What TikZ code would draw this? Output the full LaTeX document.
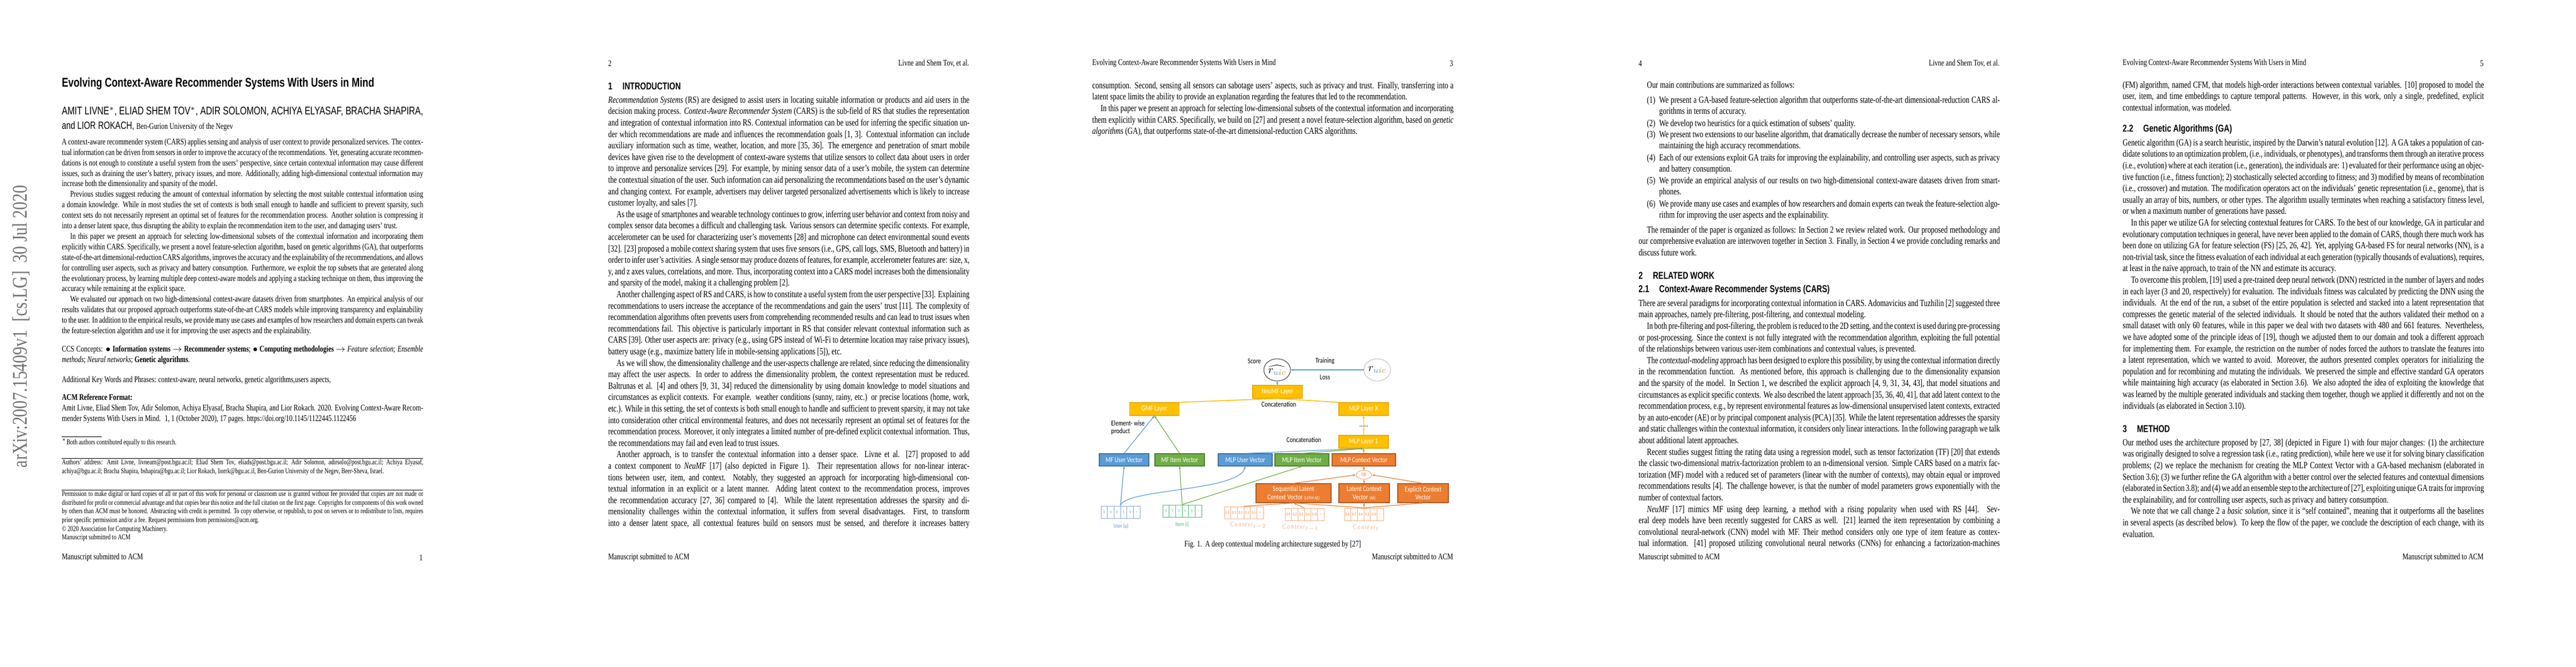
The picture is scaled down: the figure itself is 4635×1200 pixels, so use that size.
\documentclass[tikz,border=0pt]{standalone}
\usepackage{fontspec}
\setmainfont{Liberation Serif}[FakeStretch=0.76]
\newfontfamily\hsans{Liberation Sans}[FakeStretch=0.76]
\newfontfamily\figfont{Carlito}[FakeStretch=0.8]
\newfontfamily\stampfont{Liberation Serif}
\usetikzlibrary{arrows.meta,shapes.geometric}
\definecolor{yl}{HTML}{FFC000}\definecolor{ylb}{HTML}{E6AC00}
\definecolor{bl}{HTML}{5B9BD5}\definecolor{blb}{HTML}{41719C}
\definecolor{gr}{HTML}{70AD47}\definecolor{grb}{HTML}{507E32}
\definecolor{org}{HTML}{ED7D31}\definecolor{orb}{HTML}{AE5A21}
\definecolor{blin}{HTML}{8EA9DB}\definecolor{grin}{HTML}{4CC07A}\definecolor{orin}{HTML}{F4B183}
\newcommand\bp[5]{\node[#1] (#2) at (#3,{#4-11}) {#5};}
\newcommand\ind{\hspace*{7.5pt}}
\newcommand\cvec[6]{%
  \node[draw=#4,line width=0.5pt,minimum width=35pt,minimum height=11pt,inner sep=0] (#1) at (#2,#3) {};
  \foreach \k in {1,...,5}{\draw[#4,line width=0.4pt] ({#2-35+\k*11.67},{#3-11}) -- ({#2-35+\k*11.67},{#3+11});}
  \foreach \v [count=\i] in {#5}{\node[inner sep=0,text=#6,font=\figfont\fontsize{#6}{4}\selectfont] (#1c\i) at ({#2-35+(\i-0.5)*11.67},#3) {\v};}
}
\newcommand\cvecb[6]{%
  \node[draw=#4,line width=0.5pt,minimum width=35pt,minimum height=11pt,inner sep=0] (#1) at (#2,#3) {};
  \foreach \k in {1,...,5}{\draw[#4,line width=0.4pt] ({#2-35+\k*11.67},{#3-11}) -- ({#2-35+\k*11.67},{#3+11});}
  \foreach \v [count=\i] in {#5}{\node[inner sep=0,text=#6,font=\figfont\fontsize{3.6}{4}\selectfont] (#1c\i) at ({#2-35+(\i-0.5)*11.67},#3) {\v};}
}
\begin{document}
\begin{tikzpicture}[x=0.5pt,y=-0.5pt,
  bodytext/.style={anchor=north west,inner sep=0pt,align=justify,text width=325pt,font=\fontsize{8.5}{10.3}\selectfont},
  abs/.style={bodytext,font=\fontsize{7.8}{9.45}\selectfont},
  small/.style={bodytext,font=\fontsize{6.6}{7.8}\selectfont},
  hdr/.style={inner sep=0pt,font=\fontsize{7.8}{9}\selectfont},
  sec/.style={anchor=west,inner sep=0pt,font=\hsans\bfseries\fontsize{9}{10}\selectfont},
  rule/.style={line width=0.4pt},
  fbox/.style={draw,line width=0.6pt,inner sep=0pt,font=\figfont\fontsize{6.6}{7.4}\selectfont,text=white,align=center},
  ybox/.style={fbox,fill=yl,draw=ylb,minimum width=44.5pt,minimum height=11.5pt},
  bbox/.style={fbox,fill=bl,draw=blb,minimum height=11pt},
  gbox/.style={fbox,fill=gr,draw=grb,minimum height=11pt},
  obox/.style={fbox,fill=org,draw=orb,minimum height=11pt},
  lab/.style={inner sep=0pt,font=\figfont\fontsize{6.6}{7.4}\selectfont},
  ya/.style={yl,line width=0.6pt,-{Stealth[length=2.5pt,width=2pt]}},
  ba/.style={bl,line width=0.6pt,-{Stealth[length=2.5pt,width=2pt]}},
  ga/.style={gr,line width=0.6pt,-{Stealth[length=2.5pt,width=2pt]}},
  oa/.style={org,line width=0.6pt,-{Stealth[length=2.5pt,width=2pt]}}]
\useasboundingbox (0,0) rectangle (4635,1200);
\fill[white] (0,0) rectangle (4635,1200);

% ================= PAGE 1 =================
\node[rotate=90,inner sep=0,text=black!55] (stamp) at (38,588) {\resizebox{254pt}{13pt}{\stampfont arXiv:2007.15409v1\ \ [cs.LG]\ \ 30 Jul 2020}};
\node[anchor=west,inner sep=0] (title) at (111,151) {\resizebox{281pt}{!}{\hsans\bfseries Evolving Context-Aware Recommender Systems With Users in Mind}};
\node[anchor=west,inner sep=0] (auth1) at (111,201) {\resizebox{325pt}{!}{\hsans AMIT LIVNE$^{*}$, ELIAD SHEM TOV$^{*}$, ADIR SOLOMON, ACHIYA ELYASAF, BRACHA SHAPIRA,}};
\node[anchor=west,inner sep=0] (auth2) at (111,227) {{\hsans\fontsize{9.4}{10}\selectfont and LIOR ROKACH,} {\fontsize{7.8}{9}\selectfont Ben-Gurion University of the Negev}};
\bp{abs}{a1}{111}{260}{A context-aware recommender system (CARS) applies sensing and analysis of user context to provide personalized services. The contextual information can be driven from sensors in order to improve the accuracy of the recommendations. Yet, generating accurate recommendations is not enough to constitute a useful system from the users' perspective, since certain contextual information may cause different issues, such as draining the user's battery, privacy issues, and more. Additionally, adding high-dimensional contextual information may increase both the dimensionality and sparsity of the model.

\ind Previous studies suggest reducing the amount of contextual information by selecting the most suitable contextual information using a domain knowledge. While in most studies the set of contexts is both small enough to handle and sufficient to prevent sparsity, such context sets do not necessarily represent an optimal set of features for the recommendation process. Another solution is compressing it into a denser latent space, thus disrupting the ability to explain the recommendation item to the user, and damaging users' trust.

\ind In this paper we present an approach for selecting low-dimensional subsets of the contextual information and incorporating them explicitly within CARS. Specifically, we present a novel feature-selection algorithm, based on genetic algorithms (GA), that outperforms state-of-the-art dimensional-reduction CARS algorithms, improves the accuracy and the explainability of the recommendations, and allows for controlling user aspects, such as privacy and battery consumption. Furthermore, we exploit the top subsets that are generated along the evolutionary process, by learning multiple deep context-aware models and applying a stacking technique on them, thus improving the accuracy while remaining at the explicit space.

\ind We evaluated our approach on two high-dimensional context-aware datasets driven from smartphones. An empirical analysis of our results validates that our proposed approach outperforms state-of-the-art CARS models while improving transparency and explainability to the user. In addition to the empirical results, we provide many use cases and examples of how researchers and domain experts can tweak the feature-selection algorithm and use it for improving the user aspects and the explainability.}
\bp{abs}{ccs}{111}{633}{CCS Concepts: $\bullet$ \textbf{Information systems} $\rightarrow$ \textbf{Recommender systems}; $\bullet$ \textbf{Computing methodologies} $\rightarrow$ \emph{Feature selection}; \emph{Ensemble methods}; \emph{Neural networks}; \textbf{Genetic algorithms}.}
\bp{abs}{kw}{111}{688}{Additional Key Words and Phrases: context-aware, neural networks, genetic algorithms,users aspects,}
\bp{abs}{acm}{111}{720}{\textbf{ACM Reference Format:}\\ Amit Livne, Eliad Shem Tov, Adir Solomon, Achiya Elyasaf, Bracha Shapira, and Lior Rokach. 2020. Evolving Context-Aware Recommender Systems With Users in Mind. \ 1, 1 (October 2020), 17 pages. https://doi.org/10.1145/1122445.1122456}
\coordinate (fnA) at (111,786); \coordinate (fnB) at (183,786);
\draw[rule] (fnA) -- (fnB);
\bp{small}{fn}{111}{800}{$^{*}$Both authors contributed equally to this research.}
\coordinate (r1A) at (111,825); \coordinate (r1B) at (761,825);
\draw[rule] (r1A) -- (r1B);
\bp{small}{addr}{111}{838}{Authors' address: Amit Livne, livneam@post.bgu.ac.il; Eliad Shem Tov, eliads@post.bgu.ac.il; Adir Solomon, adirsolo@post.bgu.ac.il; Achiya Elyasaf, achiya@bgu.ac.il; Bracha Shapira, bshapira@bgu.ac.il; Lior Rokach, liorrk@bgu.ac.il, Ben-Gurion University of the Negev, Beer-Sheva, Israel.}
\coordinate (r2A) at (111,882); \coordinate (r2B) at (761,882);
\draw[rule] (r2A) -- (r2B);
\bp{small}{perm}{111}{895}{Permission to make digital or hard copies of all or part of this work for personal or classroom use is granted without fee provided that copies are not made or distributed for profit or commercial advantage and that copies bear this notice and the full citation on the first page. Copyrights for components of this work owned by others than ACM must be honored. Abstracting with credit is permitted. To copy otherwise, or republish, to post on servers or to redistribute to lists, requires prior specific permission and/or a fee. Request permissions from permissions@acm.org.\\
\copyright\ 2020 Association for Computing Machinery.\\
Manuscript submitted to ACM}
\node[hdr,anchor=west] (f1l) at (111,1004) {Manuscript submitted to ACM};
\node[hdr,anchor=east] (f1r) at (761,1004) {1};

% ================= PAGE 2 =================
\node[hdr,anchor=west] (h2l) at (1094,114) {2};
\node[hdr,anchor=east] (h2r) at (1744,114) {Livne and Shem Tov, et al.};
\node[sec] (s1) at (1094,155) {1\hspace{9pt}INTRODUCTION};
\bp{bodytext}{p2}{1094}{184}{\emph{Recommendation Systems} (RS) are designed to assist users in locating suitable information or products and aid users in the decision making process. \emph{Context-Aware Recommender System} (CARS) is the sub-field of RS that studies the representation and integration of contextual information into RS. Contextual information can be used for inferring the specific situation under which recommendations are made and influences the recommendation goals [1, 3]. Contextual information can include auxiliary information such as time, weather, location, and more [35, 36]. The emergence and penetration of smart mobile devices have given rise to the development of context-aware systems that utilize sensors to collect data about users in order to improve and personalize services [29]. For example, by mining sensor data of a user's mobile, the system can determine the contextual situation of the user. Such information can aid personalizing the recommendations based on the user's dynamic and changing context. For example, advertisers may deliver targeted personalized advertisements which is likely to increase customer loyalty, and sales [7].

\ind As the usage of smartphones and wearable technology continues to grow, inferring user behavior and context from noisy and complex sensor data becomes a difficult and challenging task. Various sensors can determine specific contexts. For example, accelerometer can be used for characterizing user's movements [28] and microphone can detect environmental sound events [32]. [23] proposed a mobile context sharing system that uses five sensors (i.e., GPS, call logs, SMS, Bluetooth and battery) in order to infer user's activities. A single sensor may produce dozens of features, for example, accelerometer features are: size, x, y, and z axes values, correlations, and more. Thus, incorporating context into a CARS model increases both the dimensionality and sparsity of the model, making it a challenging problem [2].

\ind Another challenging aspect of RS and CARS, is how to constitute a useful system from the user perspective [33]. Explaining recommendations to users increase the acceptance of the recommendations and gain the users' trust [11]. The complexity of recommendation algorithms often prevents users from comprehending recommended results and can lead to trust issues when recommendations fail. This objective is particularly important in RS that consider relevant contextual information such as CARS [39]. Other user aspects are: privacy (e.g., using GPS instead of Wi-Fi to determine location may raise privacy issues), battery usage (e.g., maximize battery life in mobile-sensing applications [5]), etc.

\ind As we will show, the dimensionality challenge and the user-aspects challenge are related, since reducing the dimensionality may affect the user aspects. In order to address the dimensionality problem, the context representation must be reduced. Baltrunas et al. [4] and others [9, 31, 34] reduced the dimensionality by using domain knowledge to model situations and circumstances as explicit contexts. For example. weather conditions (sunny, rainy, etc.) or precise locations (home, work, etc.). While in this setting, the set of contexts is both small enough to handle and sufficient to prevent sparsity, it may not take into consideration other critical environmental features, and does not necessarily represent an optimal set of features for the recommendation process. Moreover, it only integrates a limited number of pre-defined explicit contextual information. Thus, the recommendations may fail and even lead to trust issues.

\ind Another approach, is to transfer the contextual information into a denser space. Livne et al. [27] proposed to add a context component to \emph{NeuMF} [17] (also depicted in Figure 1). Their representation allows for non-linear interactions between user, item, and context. Notably, they suggested an approach for incorporating high-dimensional contextual information in an explicit or a latent manner. Adding latent context to the recommendation process, improves the recommendation accuracy [27, 36] compared to [4]. While the latent representation addresses the sparsity and dimensionality challenges within the contextual information, it suffers from several disadvantages. First, to transform into a denser latent space, all contextual features build on sensors must be sensed, and therefore it increases battery\parfillskip=0pt\par}
\node[hdr,anchor=west] (f2l) at (1094,1004) {Manuscript submitted to ACM};

% ================= PAGE 3 =================
\node[hdr,anchor=west] (h3l) at (1965,114) {Evolving Context-Aware Recommender Systems With Users in Mind};
\node[hdr,anchor=east] (h3r) at (2615,114) {3};
\bp{bodytext}{p3}{1965}{158}{consumption. Second, sensing all sensors can sabotage users' aspects, such as privacy and trust. Finally, transferring into a latent space limits the ability to provide an explanation regarding the features that led to the recommendation.

\ind In this paper we present an approach for selecting low-dimensional subsets of the contextual information and incorporating them explicitly within CARS. Specifically, we build on [27] and present a novel feature-selection algorithm, based on \emph{genetic algorithms} (GA), that outperforms state-of-the-art dimensional-reduction CARS algorithms.}
% figure
\node[ellipse,draw=black!75,line width=0.5pt,minimum width=24pt,minimum height=20pt,inner sep=0] (rhat) at (2298,666) {$\widehat{r_{{\color{bl}u}{\color{gr}i}{\color{org}c}}}$};
\node[ellipse,draw=black!25,line width=0.5pt,minimum width=24pt,minimum height=20pt,inner sep=0] (rtrue) at (2478,666) {$r_{{\color{bl}u}{\color{gr}i}{\color{org}c}}$};
\node[lab] (score) at (2257,650) {Score};
\node[lab] (train) at (2384,650) {Training};
\node[lab] (loss) at (2384,679) {Loss};
\draw[ba] (rtrue) -- (rhat);
\node[ybox] (neumf) at (2298.5,705.5) {NeuMF Layer};
\node[ybox] (gmf) at (2077,736.5) {GMF Layer};
\node[ybox] (mlpx) at (2453.5,736.5) {MLP Layer X};
\node[ybox] (mlp1) at (2453.5,795.5) {MLP Layer 1};
\node[lab] (conc1) at (2301,728) {Concatenation};
\node[lab] (conc2) at (2346,792) {Concatenation};
\node[lab,align=left,anchor=east] (ewp) at (2060,770) {Element- wise\\product};
\node[lab] (dots) at (2454,768) {......};
\draw[ba] (neumf.north) -- (rhat.south);
\draw[yl,line width=0.8pt] (gmf.north east) -- (neumf.south);
\draw[yl,line width=0.8pt] (mlpx.north west) -- (neumf.south);
\draw[ya] (mlp1.north) -- (dots.south);
\draw[ya] (dots.north) -- (mlpx.south);
\node[bbox,minimum width=44.5pt] (mfu) at (2022.5,828) {MF User Vector};
\node[gbox,minimum width=44.5pt] (mfi) at (2122.5,828) {MF Item Vector};
\node[bbox,minimum width=48.5pt] (mlpu) at (2240.5,828) {MLP User Vector};
\node[gbox,minimum width=48.5pt] (mlpi) at (2342.5,828) {MLP Item Vector};
\node[obox,minimum width=57pt] (mlpc) at (2454,828) {MLP Context Vector};
\node[ellipse,draw=orin,fill=white,line width=0.6pt,minimum width=14pt,minimum height=8pt,inner sep=0,font=\figfont\fontsize{4.5}{5}\selectfont,text=org] (orn) at (2454,855) {OR};
\node[obox,minimum width=67.5pt,minimum height=17pt] (seq) at (2327.5,888) {Sequential Latent\\Context Vector {\fontsize{4.2}{5}\selectfont(LSTM AE)}};
\node[obox,minimum width=45.5pt,minimum height=17pt] (lat) at (2454.5,888) {Latent Context\\Vector {\fontsize{4.2}{5}\selectfont(AE)}};
\node[obox,minimum width=45.5pt,minimum height=17pt] (expl) at (2560.5,888) {Explicit Context\\Vector};
\cvecb{uin}{2016}{922}{blin}{0,0,0,1,0,$\cdots$}{bl}
\cvecb{iin}{2127}{920}{grin}{0,1,0,0,0,$\cdots$}{grin}
\cvecb{ct2}{2238}{923}{orin}{0.5,0.1,0.1,0.1,0.1,$\cdots$}{org}
\cvecb{ct1}{2347}{926}{orin}{0.9,0.2,0.1,0.6,0.3,$\cdots$}{org}
\cvecb{ct0}{2454}{926}{orin}{0.8,0.7,0.4,0.2,0.3,$\cdots$}{org}
\node[lab,text=bl,font=\figfont\fontsize{5.2}{6}\selectfont] (ulab) at (2017,947) {User (u)};
\node[lab,text=grin,font=\figfont\fontsize{5.2}{6}\selectfont] (ilab) at (2127,944) {Item (i)};
\node[lab,text=orin] (c2lab) at (2246,946) {$\mathit{Context}_{t-2}$};
\node[lab,text=orin] (c1lab) at (2340,950) {$\mathit{Context}_{t-1}$};
\node[lab,text=orin] (c0lab) at (2458,950) {$\mathit{Context}_{t}$};
\draw[ba] (uin.north) -- (mfu.south);
\draw[ba] (uin.north) .. controls (2022,880) and (2230,885) .. (mlpu.south);
\draw[ga] (iin.north) -- (mfi.south);
\draw[ga] (iin.north) -- (mlpi.south);
\draw[ba] (mfu.north) -- (gmf.south);
\draw[ga] (mfi.north) -- (gmf.south);
\draw[ba] (mlpu.north) -- (mlp1.south);
\draw[ga] (mlpi.north) -- (mlp1.south);
\draw[oa] (mlpc.north) -- (mlp1.south);
\draw[oa] (orn.north) -- (mlpc.south);
\draw[oa] (seq.north) -- (orn.west);
\draw[oa] (lat.north) -- (orn.south);
\draw[oa] (expl.north) -- (orn.east);
\draw[oa] (ct2.north) -- (seq.south);
\draw[oa] (ct1.north) -- (seq.south);
\draw[oa] (ct0.north) -- (seq.south);
\draw[oa] (ct0.north) -- (lat.south);
\draw[oa] (ct0.north) -- (expl.south);
\node[hdr] (cap) at (2290,981) {Fig. 1.\ \ A deep contextual modeling architecture suggested by [27]};
\node[hdr,anchor=east] (f3r) at (2615,1004) {Manuscript submitted to ACM};

% ================= PAGE 4 =================
\node[hdr,anchor=west] (h4l) at (2948,114) {4};
\node[hdr,anchor=east] (h4r) at (3598,114) {Livne and Shem Tov, et al.};
\bp{bodytext}{p4a}{2948}{157}{\ind Our main contributions are summarized as follows:}
\foreach \n/\yy/\t in {1/184/{We present a GA-based feature-selection algorithm that outperforms state-of-the-art dimensional-reduction CARS algorithms in terms of accuracy.},
 2/226/{We develop two heuristics for a quick estimation of subsets' quality.},
 3/246/{We present two extensions to our baseline algorithm, that dramatically decrease the number of necessary sensors, while maintaining the high accuracy recommendations.},
 4/288/{Each of our extensions exploit GA traits for improving the explainability, and controlling user aspects, such as privacy and battery consumption.},
 5/329/{We provide an empirical analysis of our results on two high-dimensional context-aware datasets driven from smartphones.},
 6/371/{We provide many use cases and examples of how researchers and domain experts can tweak the feature-selection algorithm for improving the user aspects and the explainability.}}{
 \node[hdr,anchor=north west,font=\fontsize{8.5}{10.3}\selectfont] (li\n) at (2963,{\yy-11}) {(\n)};
 \node[bodytext,text width=306.5pt] (lt\n) at (2985,{\yy-11}) {\t};
}
\bp{bodytext}{p4b}{2948}{418}{\ind The remainder of the paper is organized as follows: In Section 2 we review related work. Our proposed methodology and our comprehensive evaluation are interwoven together in Section 3. Finally, in Section 4 we provide concluding remarks and discuss future work.}
\node[sec] (s2) at (2948,496) {2\hspace{9pt}RELATED WORK};
\node[sec] (s21) at (2948,522) {2.1\hspace{9pt}Context-Aware Recommender Systems (CARS)};
\bp{bodytext}{p4c}{2948}{550}{There are several paradigms for incorporating contextual information in CARS. Adomavicius and Tuzhilin [2] suggested three main approaches, namely pre-filtering, post-filtering, and contextual modeling.

\ind In both pre-filtering and post-filtering, the problem is reduced to the 2D setting, and the context is used during pre-processing or post-processing. Since the context is not fully integrated with the recommendation algorithm, exploiting the full potential of the relationships between various user-item combinations and contextual values, is prevented.

\ind The \emph{contextual-modeling} approach has been designed to explore this possibility, by using the contextual information directly in the recommendation function. As mentioned before, this approach is challenging due to the dimensionality expansion and the sparsity of the model. In Section 1, we described the explicit approach [4, 9, 31, 34, 43], that model situations and circumstances as explicit specific contexts. We also described the latent approach [35, 36, 40, 41], that add latent context to the recommendation process, e.g., by represent environmental features as low-dimensional unsupervised latent contexts, extracted by an auto-encoder (AE) or by principal component analysis (PCA) [35]. While the latent representation addresses the sparsity and static challenges within the contextual information, it considers only linear interactions. In the following paragraph we talk about additional latent approaches.

\ind Recent studies suggest fitting the rating data using a regression model, such as tensor factorization (TF) [20] that extends the classic two-dimensional matrix-factorization problem to an n-dimensional version. Simple CARS based on a matrix factorization (MF) model with a reduced set of parameters (linear with the number of contexts), may obtain equal or improved recommendations results [4]. The challenge however, is that the number of model parameters grows exponentially with the number of contextual factors.

\ind \emph{NeuMF} [17] mimics MF using deep learning, a method with a rising popularity when used with RS [44]. Several deep models have been recently suggested for CARS as well. [21] learned the item representation by combining a convolutional neural-network (CNN) model with MF. Their method considers only one type of item feature as contextual information. [41] proposed utilizing convolutional neural networks (CNNs) for enhancing a factorization-machines\parfillskip=0pt\par}
\node[hdr,anchor=west] (f4l) at (2948,1004) {Manuscript submitted to ACM};

% ================= PAGE 5 =================
\node[hdr,anchor=west] (h5l) at (3819,114) {Evolving Context-Aware Recommender Systems With Users in Mind};
\node[hdr,anchor=east] (h5r) at (4469,114) {5};
\bp{bodytext}{p5a}{3819}{157}{(FM) algorithm, named CFM, that models high-order interactions between contextual variables. [10] proposed to model the user, item, and time embeddings to capture temporal patterns. However, in this work, only a single, predefined, explicit contextual information, was modeled.}
\node[sec] (s22) at (3819,233) {2.2\hspace{9pt}Genetic Algorithms (GA)};
\bp{bodytext}{p5b}{3819}{261}{Genetic algorithm (GA) is a search heuristic, inspired by the Darwin's natural evolution [12]. A GA takes a population of candidate solutions to an optimization problem, (i.e., individuals, or phenotypes), and transforms them through an iterative process (i.e., evolution) where at each iteration (i.e., generation), the individuals are: 1) evaluated for their performance using an objective function (i.e., fitness function); 2) stochastically selected according to fitness; and 3) modified by means of recombination (i.e., crossover) and mutation. The modification operators act on the individuals' genetic representation (i.e., genome), that is usually an array of bits, numbers, or other types. The algorithm usually terminates when reaching a satisfactory fitness level, or when a maximum number of generations have passed.

\ind In this paper we utilize GA for selecting contextual features for CARS. To the best of our knowledge, GA in particular and evolutionary computation techniques in general, have never been applied to the domain of CARS, though there much work has been done on utilizing GA for feature selection (FS) [25, 26, 42]. Yet, applying GA-based FS for neural networks (NN), is a non-trivial task, since the fitness evaluation of each individual at each generation (typically thousands of evaluations), requires, at least in the na\"ive approach, to train of the NN and estimate its accuracy.

\ind To overcome this problem, [19] used a pre-trained deep neural network (DNN) restricted in the number of layers and nodes in each layer (3 and 20, respectively) for evaluation. The individuals fitness was calculated by predicting the DNN using the individuals. At the end of the run, a subset of the entire population is selected and stacked into a latent representation that compresses the genetic material of the selected individuals. It should be noted that the authors validated their method on a small dataset with only 60 features, while in this paper we deal with two datasets with 480 and 661 features. Nevertheless, we have adopted some of the principle ideas of [19], though we adjusted them to our domain and took a different approach for implementing them. For example, the restriction on the number of nodes forced the authors to translate the features into a latent representation, which we wanted to avoid. Moreover, the authors presented complex operators for initializing the population and for recombining and mutating the individuals. We preserved the simple and effective standard GA operators while maintaining high accuracy (as elaborated in Section 3.6). We also adopted the idea of exploiting the knowledge that was learned by the multiple generated individuals and stacking them together, though we applied it differently and not on the individuals (as elaborated in Section 3.10).}
\node[sec] (s3) at (3819,772) {3\hspace{9pt}METHOD};
\bp{bodytext}{p5c}{3819}{801}{Our method uses the architecture proposed by [27, 38] (depicted in Figure 1) with four major changes: (1) the architecture was originally designed to solve a regression task (i.e., rating prediction), while here we use it for solving binary classification problems; (2) we replace the mechanism for creating the MLP Context Vector with a GA-based mechanism (elaborated in Section 3.6); (3) we further refine the GA algorithm with a better control over the selected features and contextual dimensions (elaborated in Section 3.8); and (4) we add an ensemble step to the architecture of [27], exploiting unique GA traits for improving the explainability, and for controlling user aspects, such as privacy and battery consumption.

\ind We note that we call change 2 a \emph{basic solution}, since it is ``self contained'', meaning that it outperforms all the baselines in several aspects (as described below). To keep the flow of the paper, we conclude the description of each change, with its evaluation.}
\node[hdr,anchor=east] (f5r) at (4469,1004) {Manuscript submitted to ACM};
\end{tikzpicture}
\end{document}
